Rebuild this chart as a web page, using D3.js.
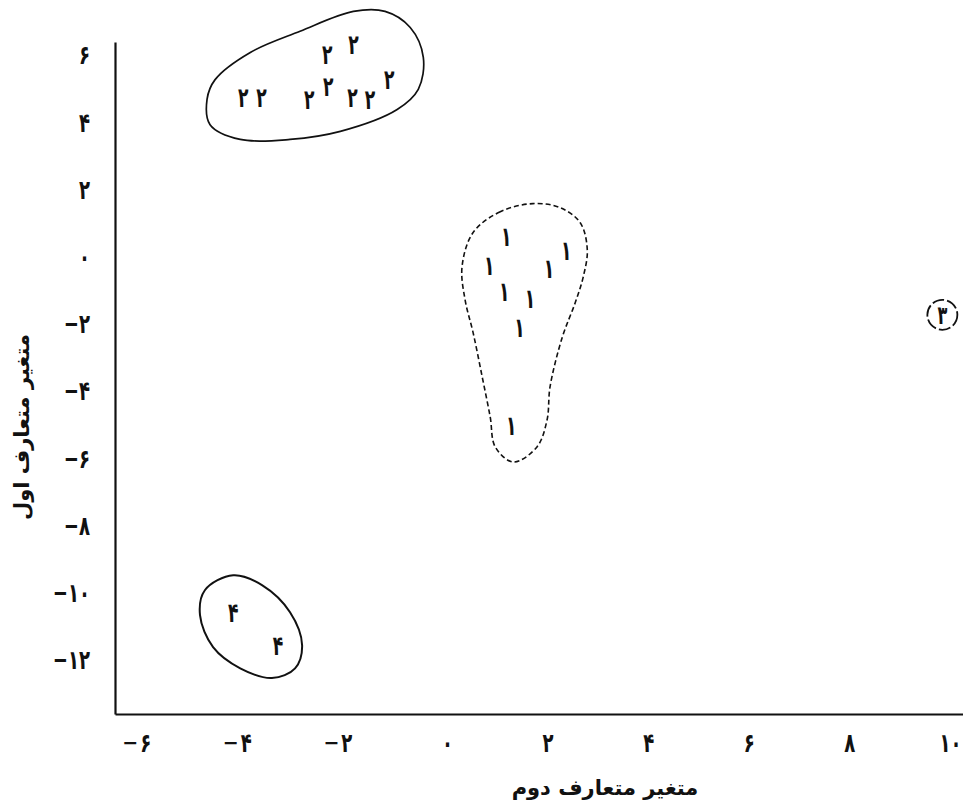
<!DOCTYPE html>
<html>
<head>
<meta charset="utf-8">
<script src="https://cdn.jsdelivr.net/npm/d3@7"></script>
<style>
  body { margin: 0; background: #fff; }
  svg { display: block; }
  text { font-family: "DejaVu Sans", sans-serif; fill: #111; }
</style>
</head>
<body>
<div id="graph"></div>
<script>
// axis values
var xTicks = [-6, -4, -2, 0, 2, 4, 6, 8, 10];
var yTicks = [6, 4, 2, 0, -2, -4, -6, -8, -10, -12];
var xTitle = "متغیر متعارف دوم";
var yTitle = "متغیر متعارف اول";

// group members, [second variate, first variate]
var group1 = [[1.18, 0.61], [2.37, 0.19], [0.84, -0.26], [2.03, -0.35], [1.14, -1.03], [1.65, -1.24], [1.44, -2.10], [1.28, -5.0]];
var group2 = [[-2.38, 6.03], [-1.86, 6.33], [-4.05, 4.75], [-3.69, 4.75], [-2.74, 4.69], [-2.36, 5.08], [-1.88, 4.75], [-1.53, 4.69], [-1.15, 5.28]];
var group4 = [[-4.25, -10.57], [-3.36, -11.55]];

// hand drawn outlines round each group
var hull1 = [[1.71, 1.59], [1.06, 1.35], [0.52, 0.73], [0.30, -0.29], [0.36, -1.27], [0.52, -2.25], [0.70, -3.56], [0.86, -4.76], [0.96, -5.65], [1.32, -6.10], [1.79, -5.65], [1.99, -4.85], [2.05, -3.86], [2.29, -2.40], [2.55, -1.36], [2.71, -0.59], [2.79, 0.22], [2.65, 1.02], [2.25, 1.47]];
var hull2 = [[-4.77, 4.69], [-4.61, 5.28], [-3.91, 6.09], [-2.92, 6.72], [-1.86, 7.31], [-1.23, 7.31], [-0.73, 6.83], [-0.47, 5.94], [-0.57, 4.99], [-0.99, 4.39], [-2.12, 3.74], [-3.12, 3.50], [-4.11, 3.50], [-4.71, 3.94]];
var hull4 = [[-4.25, -9.47], [-4.81, -9.91], [-4.91, -10.66], [-4.65, -11.61], [-4.11, -12.24], [-3.48, -12.53], [-3.02, -12.24], [-2.88, -11.55], [-3.12, -10.57], [-3.67, -9.77]];

// circled figure number at the right
var figLabel = [9.85, -1.72, 3];

var W = 963, H = 805;
var faDigits = "۰۱۲۳۴۵۶۷۸۹";

function fa(n) {
    return String(Math.abs(n)).replace(/\d/g, d => faDigits[d]);
}

// DejaVu's Persian digits are short and wide, the printed ones are tall and narrow
function stretch(sel, px, py, sx, sy) {
    sel.attr("transform", "translate(" + px + "," + py + ") scale(" + sx + "," + sy + ")")
        .attr("x", 0)
        .attr("y", 0);
}

var x = d3.scaleLinear()
    .domain([-6.6, 10.3])
    .range([115, 965]);

var y = d3.scaleLinear()
    .domain([6.4, -13.6])
    .range([42, 714]);

var svg = d3.select("#graph")
    .append("svg")
    .attr("width", W)
    .attr("height", H);

// axes
var xAxis = svg.append("g")
    .attr("transform", "translate(0," + y(-13.6) + ")")
    .call(d3.axisBottom(x).tickValues(xTicks).tickSize(0).tickFormat(d => fa(d)));

var yAxis = svg.append("g")
    .attr("transform", "translate(" + x(-6.6) + ",0)")
    .call(d3.axisLeft(y).tickValues(yTicks).tickSize(0).tickFormat(d => (d < 0 ? "\u2212" : "") + fa(d)));

svg.selectAll(".domain")
    .attr("stroke", "#111")
    .attr("stroke-width", 2.2);

svg.selectAll(".tick text")
    .attr("font-family", "DejaVu Sans")
    .attr("font-size", 19)
    .attr("font-weight", "bold")
    .attr("fill", "#111")
    .attr("dy", "0.32em");

xAxis.selectAll(".tick text").each(function() {
    stretch(d3.select(this), 0, 29, 0.95, 1.4);
});

yAxis.selectAll(".tick text").each(function() {
    stretch(d3.select(this), -25, 0, 0.95, 1.4);
});

// minus signs on the x labels sit left of the digits
xAxis.selectAll(".tick").each(function(d) {
    if (d >= 0) return;
    var t = d3.select(this).select("text");
    var w = t.node().getComputedTextLength() * 0.95;
    d3.select(this).append("text")
        .attr("x", -w / 2 - 2)
        .attr("y", 29)
        .attr("dy", "0.32em")
        .attr("text-anchor", "end")
        .attr("font-size", 19)
        .attr("font-weight", "bold")
        .attr("fill", "#111")
        .text("\u2212");
});

// axis titles
svg.append("text")
    .attr("x", 605)
    .attr("y", 795)
    .attr("text-anchor", "middle")
    .attr("font-size", 21)
    .attr("font-weight", "bold")
    .text(xTitle);

svg.append("text")
    .attr("transform", "translate(29,427) rotate(-90)")
    .attr("text-anchor", "middle")
    .attr("font-size", 21)
    .attr("font-weight", "bold")
    .text(yTitle);

// outlines
var outline = d3.line()
    .x(d => x(d[0]))
    .y(d => y(d[1]))
    .curve(d3.curveCatmullRomClosed.alpha(0.5));

svg.append("path")
    .attr("d", outline(hull1))
    .attr("fill", "none")
    .attr("stroke", "#111")
    .attr("stroke-width", 1.6)
    .attr("stroke-dasharray", "5,3");

svg.append("path")
    .attr("d", outline(hull2))
    .attr("fill", "none")
    .attr("stroke", "#111")
    .attr("stroke-width", 1.7);

svg.append("path")
    .attr("d", outline(hull4))
    .attr("fill", "none")
    .attr("stroke", "#111")
    .attr("stroke-width", 2);

// group members drawn as their group number
function drawGroup(data, num) {
    svg.append("g")
        .selectAll("text")
        .data(data)
        .enter()
        .append("text")
        .attr("dy", "0.35em")
        .attr("text-anchor", "middle")
        .attr("font-size", 19.5)
        .attr("font-weight", "bold")
        .text(fa(num))
        .each(function(d) {
            stretch(d3.select(this), x(d[0]), y(d[1]), 0.88, 1.4);
        });
}

drawGroup(group1, 1);
drawGroup(group2, 2);
drawGroup(group4, 4);

svg.append("circle")
    .attr("cx", x(figLabel[0]))
    .attr("cy", y(figLabel[1]))
    .attr("r", 15)
    .attr("fill", "none")
    .attr("stroke", "#111")
    .attr("stroke-width", 1.8)
    .attr("stroke-dasharray", "12,3");

svg.append("text")
    .attr("dy", "0.35em")
    .attr("text-anchor", "middle")
    .attr("font-size", 19)
    .attr("font-weight", "bold")
    .text(fa(figLabel[2]))
    .call(stretch, x(figLabel[0]), y(figLabel[1]), 0.85, 1.35);
</script>
</body>
</html>
